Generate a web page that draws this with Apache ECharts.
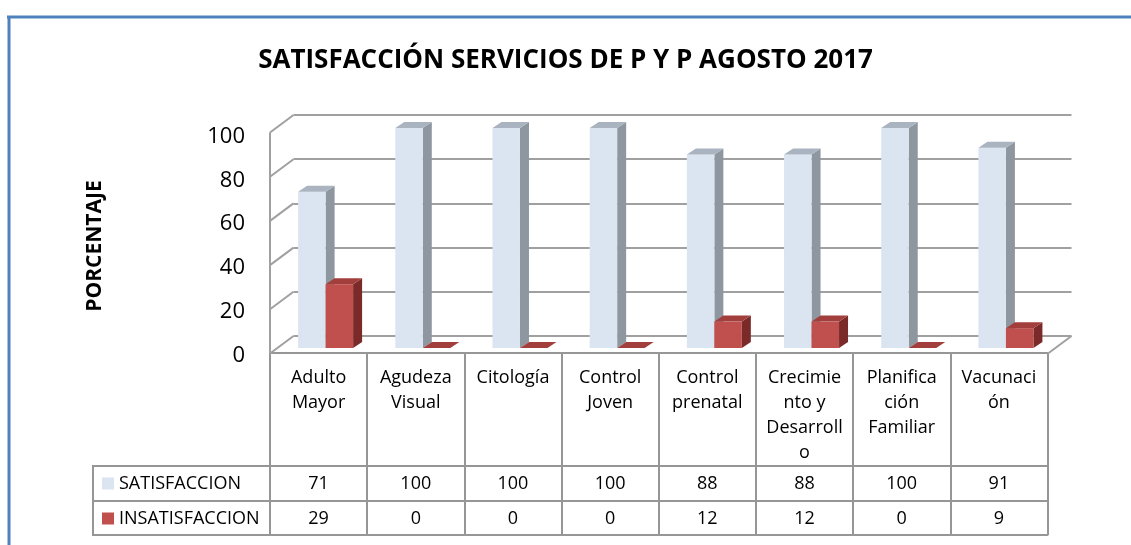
<!DOCTYPE html>
<html>
<head>
<meta charset="utf-8">
<script src="https://cdn.jsdelivr.net/npm/echarts@6/dist/echarts.min.js"></script>
<style>
  html, body { margin: 0; padding: 0; background: #fff; }
  #chart { width: 1131px; height: 545px; }
</style>
</head>
<body>
<div id="chart"></div>
<script>
// data
const categories = ['Adulto\nMayor', 'Agudeza\nVisual', 'Citología', 'Control\nJoven', 'Control\nprenatal', 'Crecimie\nnto y\nDesarroll\no', 'Planifica\nción\nFamiliar', 'Vacunaci\nón'];
const satisfaccion = [71, 100, 100, 100, 88, 88, 100, 91];
const insatisfaccion = [29, 0, 0, 0, 12, 12, 0, 9];
const yTicks = [0, 20, 40, 60, 80, 100];
const seriesNames = ['SATISFACCION', 'INSATISFACCION'];

const FONT = 'Open Sans';
const WALL_LINE = '#a0a0a0';
const TABLE_LINE = '#969696';

// floor / wall depth
const DX = 23.5, DY = -17.5;
// bar prism depth
const BX = 9, BY = -6;
const BAR_W = 27.5;

const blue = { front: '#dbe5f1', side: '#8e96a0', top: '#a9b4c0' };
const red = { front: '#c0504d', side: '#7a2b29', top: '#a23e3b' };

function barRenderer(colors, side) {
  return function (params, api) {
    const i = api.value(0);
    const v = api.value(1);
    const base = api.coord([i, 0]);
    const top = api.coord([i, v]);
    const x0 = side < 0 ? base[0] - BAR_W : base[0];
    const x1 = x0 + BAR_W;
    const yb = base[1], yt = top[1];
    return {
      type: 'group',
      children: [
        { type: 'polygon', shape: { points: [[x1, yb], [x1 + BX, yb + BY], [x1 + BX, yt + BY], [x1, yt]] }, style: { fill: colors.side } },
        { type: 'rect', shape: { x: x0, y: yt, width: BAR_W, height: yb - yt }, style: { fill: colors.front } },
        { type: 'polygon', shape: { points: [[x0, yt], [x0 + BX, yt + BY], [x1 + BX, yt + BY], [x1, yt]] }, style: { fill: colors.top } }
      ]
    };
  };
}

// left wall: front edge + diagonals, right floor edge, from the back wall scale
function frameRenderer(params, api) {
  const cs = params.coordSys;
  const v = api.value(1);
  const y = api.coord([0, v])[1];
  const style = { stroke: WALL_LINE, lineWidth: 2 };
  const children = [
    { type: 'line', shape: { x1: cs.x - DX, y1: y - DY, x2: cs.x, y2: y }, style: style }
  ];
  if (v === 0) {
    const xr = cs.x + cs.width;
    const yTop = api.coord([0, yTicks[yTicks.length - 1]])[1];
    children.push({ type: 'line', shape: { x1: xr - DX, y1: y - DY, x2: xr, y2: y }, style: style });
    children.push({ type: 'line', shape: { x1: cs.x - DX, y1: y - DY, x2: cs.x - DX, y2: yTop - DY }, style: style });
  }
  return { type: 'group', children: children };
}

const tableText = { fontFamily: FONT, fontSize: 18, color: '#000' };

const chart = echarts.init(document.getElementById('chart'));
chart.setOption({
  animation: false,
  title: {
    text: 'SATISFACCIÓN SERVICIOS DE P Y P AGOSTO 2017',
    left: 'center',
    top: 48,
    padding: [0, 8, 0, 0],
    textStyle: { fontFamily: FONT, fontSize: 26, fontWeight: 'bold', color: '#000' }
  },
  legend: {
    orient: 'vertical',
    left: 102,
    top: 473.5,
    padding: 0,
    icon: 'rect',
    itemWidth: 12,
    itemHeight: 12,
    itemGap: 15,
    data: seriesNames,
    textStyle: Object.assign({ lineHeight: 20 }, tableText)
  },
  grid: [
    { left: 277, top: 128, width: 777.5, height: 220 },   // bars
    { left: 293.5, top: 115, width: 778, height: 221 },   // back wall
    { left: 270, top: 136.5, width: 1, height: 219 },     // tick labels at the front-left edge
    { left: 270, top: 130, width: 777.5, height: 223 }    // data table
  ],
  xAxis: [
    { gridIndex: 0, type: 'category', data: categories, show: false },
    { gridIndex: 1, type: 'category', data: categories, show: false },
    { gridIndex: 2, type: 'category', data: categories, show: false },
    {
      gridIndex: 3, type: 'category', data: categories, position: 'bottom',
      axisLine: { show: true, lineStyle: { color: TABLE_LINE, width: 2 } },
      axisTick: { show: true, interval: 0, length: 182, lineStyle: { color: TABLE_LINE, width: 2 } },
      axisLabel: Object.assign({ interval: 0, margin: 12, lineHeight: 25 }, tableText)
    },
    {
      gridIndex: 3, type: 'category', data: satisfaccion.map(String), position: 'bottom', offset: 113,
      axisLine: { show: true, lineStyle: { color: TABLE_LINE, width: 2 } },
      axisTick: { show: false },
      axisLabel: Object.assign({ interval: 0, margin: 8, lineHeight: 20 }, tableText)
    },
    {
      gridIndex: 3, type: 'category', data: insatisfaccion.map(String), position: 'bottom', offset: 148,
      axisLine: { show: true, lineStyle: { color: TABLE_LINE, width: 2 } },
      axisTick: { show: false },
      axisLabel: Object.assign({ interval: 0, margin: 8, lineHeight: 20 }, tableText)
    },
    {
      gridIndex: 3, type: 'category', data: categories, position: 'bottom', offset: 182,
      axisLine: { show: true, lineStyle: { color: TABLE_LINE, width: 2 } },
      axisTick: { show: false },
      axisLabel: { show: false }
    }
  ],
  yAxis: [
    { gridIndex: 0, type: 'value', min: 0, max: 100, show: false },
    {
      gridIndex: 1, type: 'value', min: 0, max: 100, interval: 20,
      axisLine: { show: false }, axisTick: { show: false }, axisLabel: { show: false },
      splitLine: { show: true, lineStyle: { color: WALL_LINE, width: 2 } }
    },
    {
      gridIndex: 2, type: 'value', min: 0, max: 100, interval: 20,
      name: 'PORCENTAJE', nameLocation: 'middle', nameRotate: 90, nameGap: 164,
      nameTextStyle: { fontFamily: FONT, fontSize: 21, fontWeight: 'bold', color: '#000' },
      axisLine: { show: false },
      axisTick: { show: false },
      splitLine: { show: false },
      axisLabel: { fontFamily: FONT, fontSize: 22, color: '#000', margin: 25 }
    },
    { gridIndex: 3, type: 'value', show: false }
  ],
  series: [
    {
      name: 'frame', type: 'custom', xAxisIndex: 1, yAxisIndex: 1, silent: true,
      data: yTicks.map(v => [0, v]), renderItem: frameRenderer, z: 1
    },
    {
      name: seriesNames[0], type: 'custom', xAxisIndex: 0, yAxisIndex: 0,
      itemStyle: { color: blue.front },
      data: satisfaccion.map((v, i) => [i, v]), renderItem: barRenderer(blue, -1), z: 3
    },
    {
      name: seriesNames[1], type: 'custom', xAxisIndex: 0, yAxisIndex: 0,
      itemStyle: { color: red.front },
      data: insatisfaccion.map((v, i) => [i, v]), renderItem: barRenderer(red, 1), z: 4
    }
  ],
  graphic: [
    // chart border (cut at right and bottom)
    { type: 'line', shape: { x1: 7, y1: 17, x2: 1131, y2: 17 }, style: { stroke: '#4f81bd', lineWidth: 3 } },
    { type: 'line', shape: { x1: 9, y1: 16, x2: 9, y2: 545 }, style: { stroke: '#4f81bd', lineWidth: 3 } },
    // legend column of the table
    { type: 'line', shape: { x1: 93, y1: 466, x2: 270, y2: 466 }, style: { stroke: TABLE_LINE, lineWidth: 2 } },
    { type: 'line', shape: { x1: 93, y1: 501, x2: 270, y2: 501 }, style: { stroke: TABLE_LINE, lineWidth: 2 } },
    { type: 'line', shape: { x1: 93, y1: 535, x2: 270, y2: 535 }, style: { stroke: TABLE_LINE, lineWidth: 2 } },
    { type: 'line', shape: { x1: 93, y1: 465, x2: 93, y2: 536 }, style: { stroke: TABLE_LINE, lineWidth: 2 } }
  ]
});
</script>
</body>
</html>
